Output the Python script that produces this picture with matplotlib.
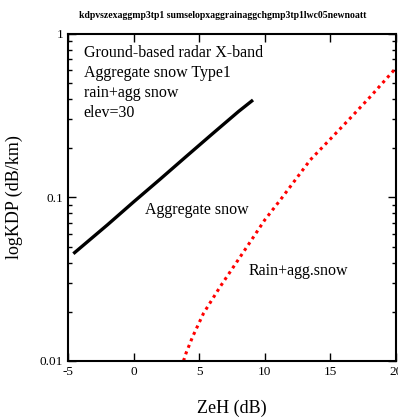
import numpy as np
import matplotlib
matplotlib.use('Agg')
import matplotlib.pyplot as plt

# aggregate snow (black solid)
agg_zeh = [-4.5, -2, 0, 2, 4, 6, 8, 9]
agg_kdp = [0.046, 0.068, 0.094, 0.129, 0.178, 0.245, 0.336, 0.389]

# rain + aggregate snow (red dotted)
rain_zeh = [3.8, 4.0, 4.5, 5.33, 6.6, 8.9, 10.0, 11.18, 13.47, 15.0, 16.5, 18.0, 20.0]
rain_kdp = [0.010, 0.0112, 0.0141, 0.0196, 0.0285, 0.0537, 0.073, 0.0966, 0.170, 0.228,
            0.305, 0.41, 0.62]

plt.rcParams['font.family'] = ['Liberation Serif', 'DejaVu Serif']
plt.rcParams['axes.unicode_minus'] = False

fig = plt.figure(figsize=(3.98, 4.18), dpi=100)
ax = fig.add_axes([0.171, 0.1364, 0.824, 0.7823])

ax.plot(agg_zeh, agg_kdp, color='black', linewidth=2.4)
ax.plot(rain_zeh, rain_kdp, color='red', linestyle=(0, (1, 1.3)), linewidth=2.2)

ax.set_yscale('log')
ax.set_xlim(-5, 20)
ax.set_ylim(0.01, 1)
ax.set_xticks([-5, 0, 5, 10, 15, 20])
ax.set_yticks([0.01, 0.1, 1])
ax.set_yticklabels(['0.01', '0.1', '1'])
ax.tick_params(which='both', direction='in', top=True, right=True, labelsize=9.5)
ax.tick_params(which='major', length=6, width=1)
ax.tick_params(which='minor', length=3, width=1)
for s in ax.spines.values():
    s.set_linewidth(1.5)

ax.set_xlabel('ZeH (dB)', fontsize=13, labelpad=16)
ax.set_ylabel('logKDP (dB/km)', fontsize=13, labelpad=12)
fig.text(0.56, 0.962, 'kdpvszexaggmp3tp1 sumselopxaggrainaggchgmp3tp1lwc05newnoatt',
         ha='center', va='center', fontsize=7, fontweight='bold')

info = ['Ground-based radar X-band', 'Aggregate snow Type1', 'rain+agg snow', 'elev=30']
for i, t in enumerate(info):
    ax.text(-3.8, 0.76 * (0.755 ** i), t, fontsize=11.5, va='center')

ax.text(0.9, 0.084, 'Aggregate snow', fontsize=11.5, va='center')
ax.text(8.8, 0.0355, 'Rain+agg.snow', fontsize=11.5, va='center')

fig.savefig('out.png', dpi=100)
